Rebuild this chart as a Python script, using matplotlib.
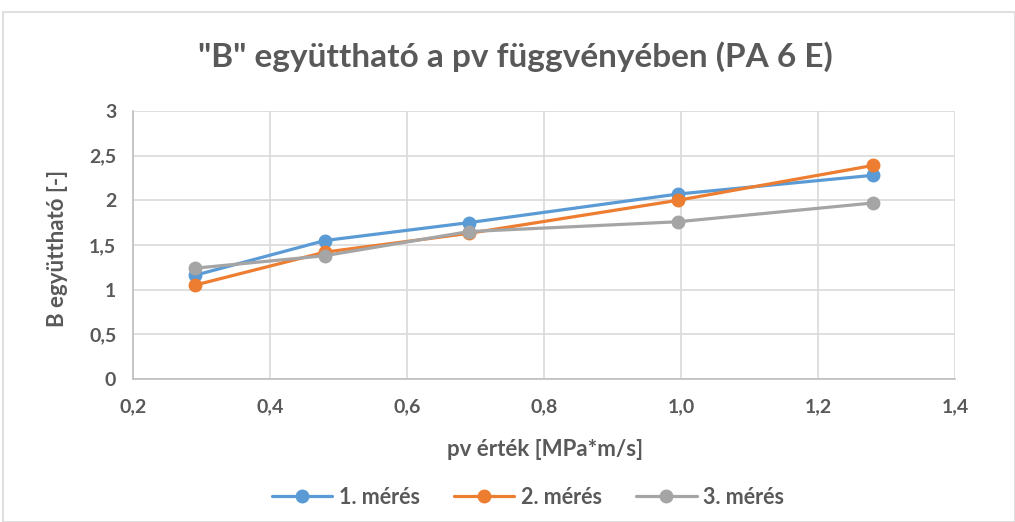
import matplotlib
matplotlib.use("Agg")
import matplotlib.pyplot as plt
from matplotlib.patches import Rectangle

plt.rcParams['font.family'] = ['Lato', 'DejaVu Sans']

# Data
pv = [0.29, 0.48, 0.69, 0.995, 1.28]
meres1 = [1.16, 1.55, 1.75, 2.07, 2.28]
meres2 = [1.05, 1.42, 1.63, 2.00, 2.39]
meres3 = [1.24, 1.38, 1.65, 1.76, 1.97]
series_names = ["1. mérés", "2. mérés", "3. mérés"]
colors = ["#5B9BD5", "#ED7D31", "#A5A5A5"]

x_ticks = [0.2, 0.4, 0.6, 0.8, 1.0, 1.2, 1.4]
x_ticklabels = ["0,2", "0,4", "0,6", "0,8", "1,0", "1,2", "1,4"]
y_ticks = [0, 0.5, 1, 1.5, 2, 2.5, 3]
y_ticklabels = ["0", "0,5", "1", "1,5", "2", "2,5", "3"]

title = '"B" együttható a pv függvényében (PA 6 E)'
xlabel = "pv érték [MPa*m/s]"
ylabel = "B együttható [-]"

W, H = 1015, 522
fig = plt.figure(figsize=(W / 100, H / 100), dpi=100)
fig.patches.append(Rectangle((3 / W, 0), 1 - 3 / W, 1 - 12 / H, transform=fig.transFigure,
                             fill=False, edgecolor="#d9d9d9", linewidth=1.2))

ax = fig.add_axes([133 / W, 1 - 379 / H, (955 - 133) / W, (379 - 111) / H])
for vals, name, c in zip([meres1, meres2, meres3], series_names, colors):
    ax.plot(pv, vals, color=c, linewidth=2.3, marker="o", markersize=9,
            label=name, solid_capstyle="round")

ax.set_xlim(0.2, 1.4)
ax.set_ylim(0, 3)
ax.set_xticks(x_ticks)
ax.set_xticklabels(x_ticklabels, fontweight="bold")
ax.set_yticks(y_ticks)
ax.set_yticklabels(y_ticklabels, fontweight="bold")
ax.grid(True, color="#d9d9d9", linewidth=1.2)
ax.set_axisbelow(True)
for s in ["top", "right"]:
    ax.spines[s].set_visible(False)
for s in ["left", "bottom"]:
    ax.spines[s].set_color("#bfbfbf")
    ax.spines[s].set_linewidth(1.2)
ax.tick_params(axis="both", length=0, labelsize=14, labelcolor="#595959")
ax.tick_params(axis="x", pad=14)
ax.tick_params(axis="y", pad=12)

fig.text(515 / W, 1 - 57 / H, title, ha="center", va="center", fontsize=24,
         color="#595959", fontweight="bold")
fig.text(545 / W, 1 - 450 / H, xlabel, ha="center", va="center", fontsize=16,
         color="#595959", fontweight="bold")
fig.text(58 / W, 1 - 248 / H, ylabel, ha="center", va="center", fontsize=16,
         color="#595959", fontweight="bold", rotation=90)

leg = fig.legend(loc="center", bbox_to_anchor=(528 / W, 1 - 497 / H), ncol=3,
                 frameon=False, fontsize=15.5, handlelength=2.8, columnspacing=1.6,
                 handletextpad=0.3)
for t in leg.get_texts():
    t.set_color("#595959")
    t.set_fontweight("bold")

fig.savefig("out.png", dpi=100)
